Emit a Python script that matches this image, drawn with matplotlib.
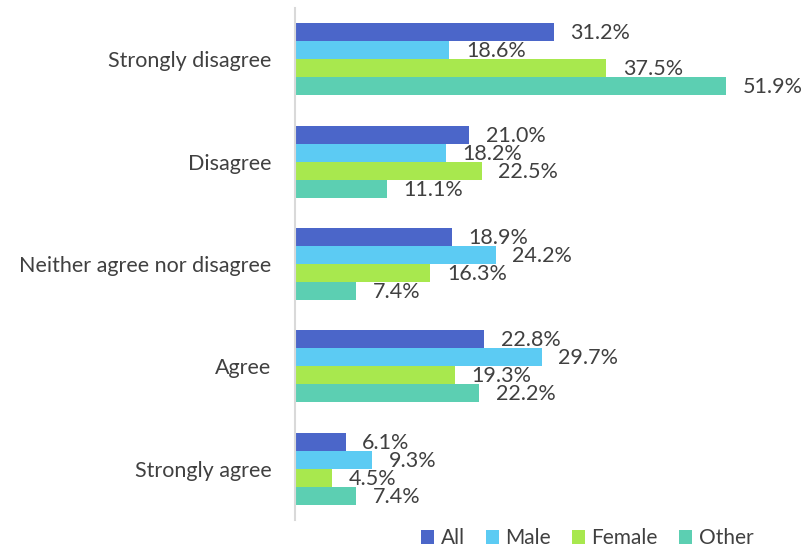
import numpy as np
import matplotlib.pyplot as plt

plt.rcParams['font.family'] = ['Lato', 'DejaVu Sans']

categories = ["Strongly disagree", "Disagree", "Neither agree nor disagree",
              "Agree", "Strongly agree"]
series = ["All", "Male", "Female", "Other"]
all_vals = [31.2, 21.0, 18.9, 22.8, 6.1]
male_vals = [18.6, 18.2, 24.2, 29.7, 9.3]
female_vals = [37.5, 22.5, 16.3, 19.3, 4.5]
other_vals = [51.9, 11.1, 7.4, 22.2, 7.4]
colors = ["#4b66c9", "#5ccbf3", "#a8e84e", "#5ccfb2"]

fig = plt.figure(figsize=(8.09, 5.52), dpi=100)
ax = fig.add_axes([295 / 809, 1 - 520 / 552, 498 / 809, 512 / 552])

y = np.arange(len(categories))
h = 0.176
text_col = "#404040"
fs = 15.5

for i, (name, vals, col) in enumerate(zip(series, [all_vals, male_vals, female_vals, other_vals], colors)):
    pos = y + (i - 1.5) * h
    ax.barh(pos, vals, height=h, color=col, label=name)
    for p, v in zip(pos, vals):
        ax.text(v + 2.0, p + 0.01, f"{v:.1f}%", va="center", ha="left",
                fontsize=fs, color=text_col)

ax.set_xlim(0, 60)
ax.set_ylim(len(categories) - 0.5, -0.5)
ax.set_yticks(y)
ax.set_yticklabels(categories, fontsize=fs, color=text_col)
ax.tick_params(axis="y", length=0, pad=17)
ax.set_xticks([])
for s in ["top", "right", "bottom"]:
    ax.spines[s].set_visible(False)
ax.spines["left"].set_color("#d9d9d9")
ax.spines["left"].set_linewidth(1.5)

fig.legend(loc="center", bbox_to_anchor=(587 / 809, 1 - 538 / 552), ncol=4,
           frameon=False, fontsize=15, handlelength=0.65, handleheight=0.65,
           handletextpad=0.3, columnspacing=1.0, labelcolor=text_col)

fig.savefig("out.png", dpi=100)
